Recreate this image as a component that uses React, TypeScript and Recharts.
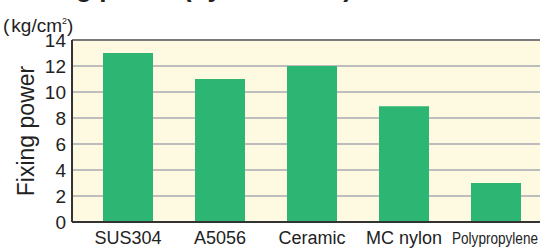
import { BarChart, Bar, XAxis, YAxis, CartesianGrid, ReferenceLine } from "recharts";

const materials = ["SUS304", "A5056", "Ceramic", "MC nylon", "Polypropylene"];
const fixingPower = [13, 11, 12, 8.9, 3];
const yTicks = [0, 2, 4, 6, 8, 10, 12, 14];

const FONT = "'Liberation Sans', Arial, Helvetica, sans-serif";

const data = materials.map((name, i) => ({ name, value: fixingPower[i] }));

function MaterialTick(props: any) {
  const { x, y, payload } = props;
  const label = String(payload.value);
  const small = label === "Polypropylene";
  return (
    <text
      x={small ? x - 1 : x}
      y={y + 22}
      textAnchor="middle"
      fontFamily={FONT}
      fontSize={small ? 16 : 18}
      fill="#222"
      {...(small ? { textLength: 86, lengthAdjust: "spacingAndGlyphs" } : {})}
    >
      {label}
    </text>
  );
}

export default function App() {
  return (
    <div
      style={{
        position: "absolute",
        left: 0,
        top: 0,
        width: 540,
        height: 248,
        overflow: "hidden",
        background: "#fff",
        fontFamily: FONT,
      }}
    >
      <div
        style={{
          position: "absolute",
          right: 188,
          top: -26,
          fontSize: 26,
          fontWeight: "bold",
          color: "#222",
          whiteSpace: "nowrap",
          lineHeight: "28px",
        }}
      >
        Fixing power (by materials)
      </div>
      <div
        style={{
          position: "absolute",
          left: 3,
          top: 10,
          fontSize: 19,
          color: "#222",
          whiteSpace: "nowrap",
          lineHeight: "22px",
        }}
      >
        (<span style={{ marginLeft: 2 }}>kg/cm</span>
        <span style={{ fontSize: 9, verticalAlign: 8 }}>2</span>)
      </div>
      <BarChart
        width={542}
        height={248}
        data={data}
        margin={{ top: 40, right: 0, bottom: 0, left: 0 }}
        barCategoryGap={0}
      >
        <CartesianGrid
          vertical={false}
          fill="#fef9e1"
          stroke="#bdbdbd"
          strokeWidth={2}
        />
        <ReferenceLine y={14} stroke="#7a7a7a" strokeWidth={2} />
        <XAxis
          dataKey="name"
          height={26}
          padding={{ left: 10, right: 0 }}
          tickLine={false}
          tickSize={0}
          tickMargin={0}
          interval={0}
          axisLine={{ stroke: "#333", strokeWidth: 2 }}
          tick={<MaterialTick />}
        />
        <YAxis
          width={72}
          domain={[0, 14]}
          ticks={yTicks}
          interval={0}
          tickLine={false}
          tickSize={0}
          tickMargin={6}
          axisLine={{ stroke: "#333", strokeWidth: 2 }}
          tick={{ fill: "#222", fontSize: 19, fontFamily: FONT }}
          label={{
            value: "Fixing power",
            angle: -90,
            position: "insideLeft",
            offset: 26,
            style: { textAnchor: "middle", fontSize: 23, fill: "#222", fontFamily: FONT },
          }}
        />
        <Bar
          dataKey="value"
          fill="#2db673"
          barSize={50}
          isAnimationActive={false}
        />
      </BarChart>
    </div>
  );
}
